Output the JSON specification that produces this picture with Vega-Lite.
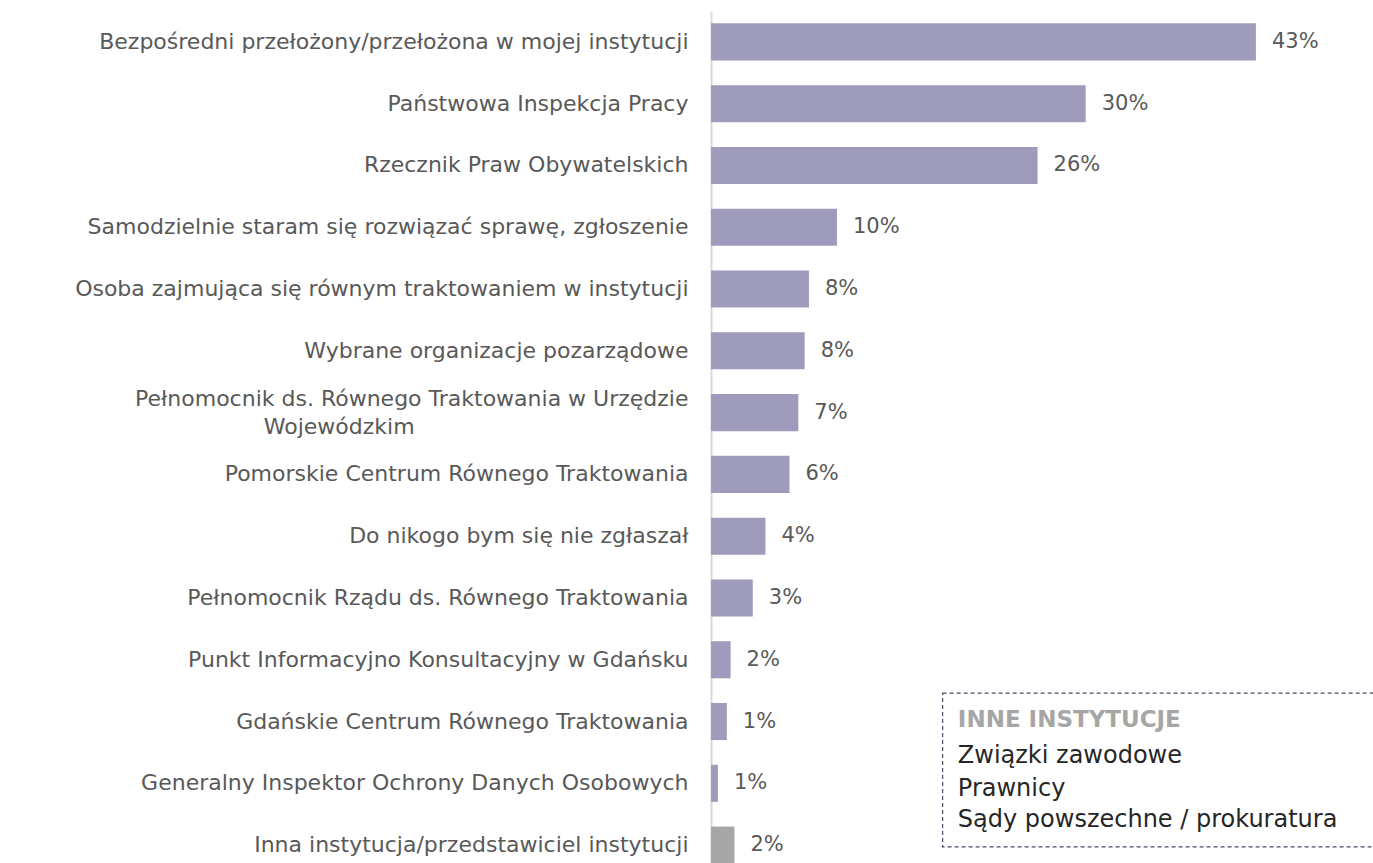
{
  "$schema": "https://vega.github.io/schema/vega-lite/v6.json",
  "width": 662,
  "height": 865,
  "autosize": {"type": "none"},
  "padding": {"left": 711, "top": 11, "right": 0, "bottom": 0},
  "background": "white",
  "config": {"view": {"stroke": null}, "font": "DejaVu Sans"},
  "resolve": {"scale": {"y": "independent"}},
  "layer": [
    {
      "data": {
        "values": [
          {"name": "Bezpośredni przełożony/przełożona w mojej instytucji", "value": 43.05, "label": "43%", "kind": "main"},
          {"name": "Państwowa Inspekcja Pracy", "value": 29.6, "label": "30%", "kind": "main"},
          {"name": "Rzecznik Praw Obywatelskich", "value": 25.8, "label": "26%", "kind": "main"},
          {"name": "Samodzielnie staram się rozwiązać sprawę, zgłoszenie", "value": 9.95, "label": "10%", "kind": "main"},
          {"name": "Osoba zajmująca się równym traktowaniem w instytucji", "value": 7.74, "label": "8%", "kind": "main"},
          {"name": "Wybrane organizacje pozarządowe", "value": 7.4, "label": "8%", "kind": "main"},
          {"name": "Pełnomocnik ds. Równego Traktowania w  Urzędzie Wojewódzkim", "value": 6.9, "label": "7%", "kind": "main"},
          {"name": "Pomorskie Centrum Równego Traktowania", "value": 6.2, "label": "6%", "kind": "main"},
          {"name": "Do nikogo bym się nie zgłaszał", "value": 4.3, "label": "4%", "kind": "main"},
          {"name": "Pełnomocnik Rządu ds. Równego Traktowania", "value": 3.3, "label": "3%", "kind": "main"},
          {"name": "Punkt Informacyjno Konsultacyjny w Gdańsku", "value": 1.55, "label": "2%", "kind": "main"},
          {"name": "Gdańskie Centrum Równego Traktowania", "value": 1.25, "label": "1%", "kind": "main"},
          {"name": "Generalny Inspektor Ochrony Danych Osobowych", "value": 0.55, "label": "1%", "kind": "main"},
          {"name": "Inna instytucja/przedstawiciel instytucji", "value": 1.85, "label": "2%", "kind": "other"}
        ]
      },
      "encoding": {
        "y": {
          "field": "name",
          "type": "nominal",
          "sort": null,
          "scale": {"paddingInner": 0.4, "paddingOuter": 0.2},
          "axis": {
            "title": null,
            "domain": true,
            "domainColor": "#d9d9d9",
            "domainWidth": 2,
            "ticks": false,
            "tickSize": 0,
            "grid": false,
            "labelPadding": 23,
            "labelFont": "DejaVu Sans",
            "labelFontSize": 22,
            "labelColor": "#595959",
            "labelLimit": 0,
            "labelLineHeight": 28,
            "labelOffset": {"condition": {"test": "indexof(datum.value, 'Urzędzie') > 0", "value": -14}, "value": 0},
            "labelExpr": "indexof(datum.value, 'Urzędzie') > 0 ? ['Pełnomocnik ds. Równego Traktowania w  Urzędzie', 'Wojewódzkim\u2800\u2800\u2800\u2800\u2800\u2800\u2800\u2800\u2800\u2800\u2800\u2800\u2800\u2800\u2800\u2800\u2800'] : datum.value"
          }
        },
        "x": {
          "field": "value",
          "type": "quantitative",
          "scale": {"domain": [0, 52.3], "nice": false, "zero": true},
          "axis": null
        }
      },
      "layer": [
        {
          "mark": {"type": "bar"},
          "encoding": {
            "color": {
              "field": "kind",
              "type": "nominal",
              "scale": {"domain": ["main", "other"], "range": ["#9f9bbd", "#a6a6a6"]},
              "legend": null
            }
          }
        },
        {
          "mark": {"type": "text", "align": "left", "baseline": "middle", "dx": 16, "fontSize": 21, "color": "#595959", "font": "DejaVu Sans"},
          "encoding": {"text": {"field": "label"}}
        }
      ]
    },
    {
      "data": {
        "values": [
          {"x": 18.3, "x2": 53.5, "y": 11.04, "y2": 13.53}
        ]
      },
      "mark": {"type": "rect", "fill": "transparent", "stroke": "#4b4b6b", "strokeWidth": 1.2, "strokeDash": [4, 3]},
      "encoding": {
        "x": {"field": "x", "type": "quantitative"},
        "x2": {"field": "x2"},
        "y": {"field": "y", "type": "quantitative", "scale": {"domain": [0, 14], "reverse": true, "nice": false, "zero": false}, "axis": null},
        "y2": {"field": "y2"}
      }
    },
    {
      "data": {
        "values": [
          {"x": 19.5, "y": 11.47, "text": "INNE INSTYTUCJE", "style": "title"},
          {"x": 19.5, "y": 12.06, "text": "Związki zawodowe", "style": "item"},
          {"x": 19.5, "y": 12.59, "text": "Prawnicy", "style": "item"},
          {"x": 19.5, "y": 13.09, "text": "Sądy powszechne / prokuratura", "style": "item"}
        ]
      },
      "layer": [
        {
          "transform": [{"filter": "datum.style == 'title'"}],
          "mark": {"type": "text", "align": "left", "baseline": "middle", "fontSize": 23, "fontWeight": "bold", "color": "#a6a6a6", "font": "DejaVu Sans"},
          "encoding": {
            "x": {"field": "x", "type": "quantitative"},
            "y": {"field": "y", "type": "quantitative", "scale": {"domain": [0, 14], "reverse": true, "nice": false, "zero": false}, "axis": null},
            "text": {"field": "text"}
          }
        },
        {
          "transform": [{"filter": "datum.style == 'item'"}],
          "mark": {"type": "text", "align": "left", "baseline": "middle", "fontSize": 24, "color": "#262626", "font": "DejaVu Sans"},
          "encoding": {
            "x": {"field": "x", "type": "quantitative"},
            "y": {"field": "y", "type": "quantitative"},
            "text": {"field": "text"}
          }
        }
      ]
    }
  ]
}
